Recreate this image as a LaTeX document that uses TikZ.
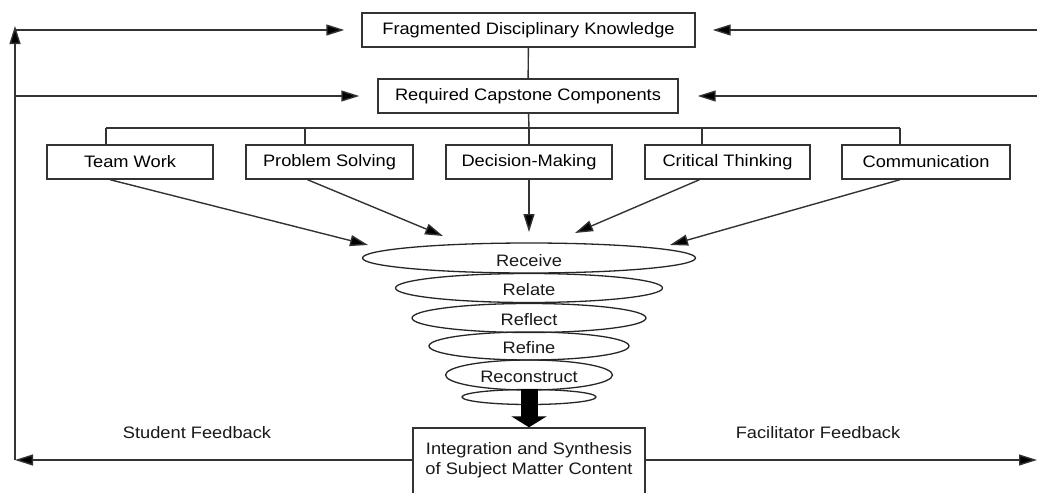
\documentclass[tikz,border=0pt]{standalone}
\usepackage{fontspec}
\setmainfont[FakeStretch=1.1]{Liberation Sans}
\usetikzlibrary{arrows.meta,shapes.geometric,calc}
\begin{document}
\begin{tikzpicture}[x=1pt,y=-1pt,
  font=\fontsize{16.6}{19.5}\selectfont,
  line/.style={draw=black!80, line width=1.4pt},
  arr/.style={line, -{Triangle[length=18pt,width=11pt,fill=black]}},
  box/.style={draw=black!80, line width=1.4pt, rectangle, inner sep=0pt, minimum height=34pt},
  ell/.style={draw=black!85, line width=1.3pt, ellipse, inner sep=0pt},
  blockarr/.style={draw=black, line width=17pt, -{Triangle[length=11pt,width=35pt]}},
  lbl/.style={inner sep=0pt, text=black!90}]
\useasboundingbox (0,0) rectangle (1037,493);
% coordinates for free ends
\coordinate (L1) at (15,30);
\coordinate (L2) at (15,96);
\coordinate (L3) at (15,460);
\coordinate (Ltop) at (15,26);
\coordinate (R1) at (1037,30);
\coordinate (R2) at (1037,96);
\coordinate (R3) at (1037,460);
\coordinate (bc) at (529,128);
\coordinate (b1) at (106,128);
\coordinate (b2) at (305,128);
\coordinate (b4) at (702,128);
\coordinate (b5) at (900,128);
\coordinate (t1) at (368,245);
\coordinate (t2) at (443,236);
\coordinate (t3) at (529,232);
\coordinate (t4) at (575,233);
\coordinate (t5) at (670,245);
% boxes
\node[box, minimum width=333pt] (fdk) at (528.5,30) {Fragmented Disciplinary Knowledge};
\node[box, minimum width=300pt] (rcc) at (528,96) {Required Capstone Components};
\node[box, minimum width=166pt] (tw) at (130,162) {Team Work};
\node[box, minimum width=167pt] (ps) at (329.5,162) {Problem Solving};
\node[box, minimum width=166pt] (dm) at (529,162) {Decision-Making};
\node[box, minimum width=165pt] (ct) at (727.5,162) {Critical Thinking};
\node[box, minimum width=168pt] (com) at (926,162) {Communication};
\node[box, minimum width=232pt, minimum height=72pt] (int) at (529,464) {};
\node[lbl, align=center] (intl) at (529,460) {Integration and Synthesis\\of Subject Matter Content};
% ellipses
\node[ell, minimum width=333pt, minimum height=30pt] (e1) at (529,258) {};
\node[ell, minimum width=267pt, minimum height=29pt] (e2) at (529,288) {};
\node[ell, minimum width=234pt, minimum height=29pt] (e3) at (529,318) {};
\node[ell, minimum width=200pt, minimum height=28pt] (e4) at (529,346) {};
\node[ell, minimum width=167pt, minimum height=30pt] (e5) at (529,375) {};
\node[ell, minimum width=134pt, minimum height=15pt] (e6) at (529,397) {};
\node[lbl] (e1l) at (529,261) {Receive};
\node[lbl] (e2l) at (529,290) {Relate};
\node[lbl] (e3l) at (529,320) {Reflect};
\node[lbl] (e4l) at (529,348) {Refine};
\node[lbl] (e5l) at (529,377) {Reconstruct};
% feedback labels
\node[lbl] (sf) at (197,433) {Student Feedback};
\node[lbl] (ff) at (818,433) {Facilitator Feedback};
% connectors top
\draw[arr] (L3) -- (Ltop);
\draw[arr, shorten >=17pt] (L1) -- (fdk.west);
\draw[arr, shorten >=18pt] (L2) -- (rcc.west);
\draw[arr, shorten >=17pt] (R1) -- (fdk.east);
\draw[arr, shorten >=19pt] (R2) -- (rcc.east);
\draw[line] (fdk) -- (rcc);
\draw[line] (rcc) -- (bc);
\draw[line] (b1) -- (b5);
\draw[line] (b1) -- (tw.north -| b1);
\draw[line] (b2) -- (ps.north -| b2);
\draw[line] (bc) -- (dm);
\draw[line] (b4) -- (ct.north -| b4);
\draw[line] (b5) -- (com.north -| b5);
% arrows to funnel
\draw[arr] ([xshift=-20pt]tw.south) -- (t1);
\draw[arr] ([xshift=-22pt]ps.south) -- (t2);
\draw[arr] (dm.south) -- (t3);
\draw[arr] ([xshift=-28pt]ct.south) -- (t4);
\draw[arr] ([xshift=-26pt]com.south) -- (t5);
% block arrow
\draw[blockarr] (e6.north) -- (int.north);
% bottom feedback arrows
\draw[arr] (int.west |- L3) -- (L3);
\draw[arr] (int.east |- R3) -- (R3);
\end{tikzpicture}
\end{document}
